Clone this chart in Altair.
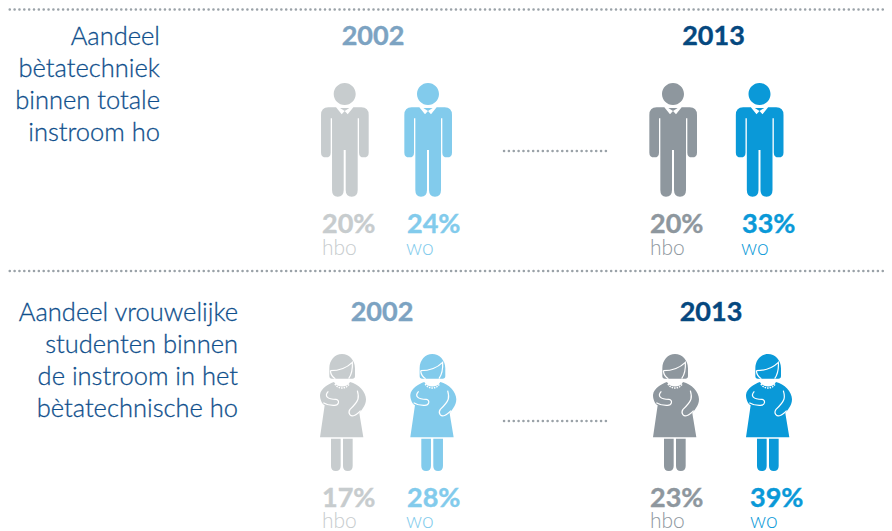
import re
import altair as alt
import pandas as pd

# ---- text content ----
section_labels = [
    ["Aandeel", "bètatechniek", "binnen totale", "instroom ho"],
    ["Aandeel vrouwelijke", "studenten binnen", "de instroom in het", "bètatechnische ho"],
]
years = ["2002", "2013", "2002", "2013"]
values = ["20%", "24%", "20%", "33%", "17%", "28%", "23%", "39%"]
groups = ["hbo", "wo", "hbo", "wo", "hbo", "wo", "hbo", "wo"]

# ---- colours ----
C_LGRAY, C_LBLUE, C_DGRAY, C_BLUE = "#c7ccce", "#82cbec", "#8e979e", "#0a99d8"
C_Y02, C_Y13, C_TXT, C_DOT = "#7ca3c2", "#05487f", "#0f4f8c", "#9aa2a8"
fig_colors = [C_LGRAY, C_LBLUE, C_DGRAY, C_BLUE]
FONT = "Lato"
NUMFONT = "Lato"

# ---- layout (page pixels) ----
W, H = 884, 531
man_x, man_y = [344.7, 428, 673, 759.5], 140
woman_x, woman_y = [342, 432.3, 675, 768], 412.5
val_x = [322, 407, 650, 742, 322, 407, 650, 750]
grp_x = [322, 406, 650, 741, 322, 406, 650, 750]
val_y = [233, 233, 233, 233, 507, 507, 507, 507]
grp_y = [255, 255, 255, 255, 528, 528, 528, 528]
year_x = [373, 713.5, 382, 711]
year_y = [45, 45, 321, 321]
label_right = [160, 238]
label_base = [[45, 77, 109, 141], [321, 353, 385, 417]]
dot_lines = [(0, 892, 9.5), (0, 892, 271), (504, 606, 151), (504, 606, 421)]

# ---- icon glyphs, drawn in a 3x working space and normalised to [-1, 1] ----
def circle(cx, cy, r):
    k = 0.5523 * r
    return (f"M {cx} {cy-r} C {cx+k} {cy-r} {cx+r} {cy-k} {cx+r} {cy} "
            f"C {cx+r} {cy+k} {cx+k} {cy+r} {cx} {cy+r} "
            f"C {cx-k} {cy+r} {cx-r} {cy+k} {cx-r} {cy} "
            f"C {cx-r} {cy-k} {cx-k} {cy-r} {cx} {cy-r} Z ")

def norm(path, cx, cy, half):
    i = [0]
    def f(m):
        v = float(m.group(0))
        o = cx if i[0] % 2 == 0 else cy
        i[0] += 1
        return f"{(v - o) / half:.4f}"
    return re.sub(r"-?\d+\.?\d*", f, path)

MAN = (circle(134, 282, 33) +
       "M 85 322 L 108 322 L 125 343 L 134 333 L 143 343 L 160 322 L 184 322 Q 206 322 206 345 "
       "L 206 458 Q 206 472 191 472 Q 177 472 177 458 L 177 355 L 173 355 L 173 570 "
       "Q 173 590 155 590 Q 137 590 137 570 L 137 450 L 131 450 L 131 570 Q 131 590 113 590 "
       "Q 96 590 96 570 L 96 355 L 92 355 L 92 458 Q 92 472 78 472 Q 63 472 63 458 L 63 345 "
       "Q 63 322 85 322 Z M 120 324 L 148 324 L 134 333 Z")
MAN_PATH = norm(MAN, 134, 420, 170)

WOMAN = ("M 88 265 C 88 240 105 222 126 222 C 147 222 165 240 165 265 L 165 288 Q 165 296 157 296 "
         "L 96 296 Q 88 296 88 288 Z "
         "M 102 306 C 110 324 142 324 150 306 C 175 312 198 335 198 358 C 198 378 182 392 178 400 "
         "L 190 472 L 60 472 L 74 376 C 64 370 60 356 60 345 C 62 325 85 312 102 306 Z "
         "M 93 476 L 122 476 L 122 558 Q 122 573 107.5 573 Q 93 573 93 558 Z "
         "M 129 476 L 158 476 L 158 558 Q 158 573 143.5 573 Q 129 573 129 558 Z")
WOMAN_PATH = norm(WOMAN, 126, 397.5, 175.5)
WOMAN_LINES = norm("M 91 272 C 115 272 140 264 157 247 C 158 262 157 280 146 296 "
                   "M 91 272 C 92 282 98 292 106 296 "
                   "M 85 334 C 72 348 82 358 108 358 C 120 360 118 378 100 376 C 88 376 78 373 70 368 "
                   "M 172 332 C 178 352 178 362 150 388 C 142 400 152 412 164 406 C 172 400 178 398 182 392",
                   126, 397.5, 175.5)
NECK = norm("M 105 312 C 112 328 140 328 147 312", 126, 397.5, 175.5)

# ---- tables ----
men = pd.DataFrame({"x": man_x, "y": man_y, "c": fig_colors})
women = pd.DataFrame({"x": woman_x, "y": woman_y, "c": fig_colors})
vals = pd.DataFrame({"x": val_x, "y": val_y, "t": values,
                     "c": [C_LGRAY, C_LBLUE, C_DGRAY, C_BLUE] * 2})
grps = pd.DataFrame({"x": grp_x, "y": grp_y, "t": groups,
                     "c": [C_LGRAY, C_LBLUE, C_DGRAY, C_BLUE] * 2})
yrs = pd.DataFrame({"x": year_x, "y": year_y, "t": years,
                    "c": [C_Y02, C_Y13, C_Y02, C_Y13]})
lab = pd.DataFrame([{"x": label_right[s], "y": label_base[s][i], "t": section_labels[s][i]}
                    for s in range(2) for i in range(4)])
dots = pd.DataFrame(dot_lines, columns=["x", "x2", "y"])

sx = alt.Scale(domain=[8, W], range=[0, W - 8])
sy = alt.Scale(domain=[8, H], range=[0, H - 8])
X = alt.X("x:Q", scale=sx, axis=None)
Y = alt.Y("y:Q", scale=sy, axis=None)
COL = alt.Color("c:N", scale=None)

rules = alt.Chart(dots).mark_rule(strokeWidth=2.5, strokeCap="round", strokeDash=[0.1, 4.75],
                                  color=C_DOT, clip=True).encode(X, alt.X2("x2:Q"), Y)

def icon(df, path, size, **kw):
    return alt.Chart(df).mark_point(shape=path, size=size, filled=True, opacity=1, **kw).encode(X, Y, COL)

def overlay(df, path, size, **kw):
    return alt.Chart(df).mark_point(shape=path, size=size, filled=False, opacity=1, stroke="white", **kw).encode(X, Y)

men_l = icon(men, MAN_PATH, (2 * 170 / 3) ** 2)
wom_s = (2 * 175.5 / 3) ** 2
wom_l = icon(women, WOMAN_PATH, wom_s)
wom_o = overlay(women, WOMAN_LINES, wom_s, strokeWidth=1.2)
wom_n = overlay(women, NECK, wom_s, strokeWidth=1.5, strokeDash=[1.5, 1])

def text(df, size, font, weight, align="left", color=None, thicken=0):
    kw = {}
    if color:
        kw["color"] = color
    if thicken:
        kw["strokeWidth"] = thicken
    m = alt.Chart(df).mark_text(fontSize=size, font=font, fontWeight=weight, align=align,
                                baseline="alphabetic", **kw)
    enc = dict(x=X, y=Y, text="t:N")
    if not color:
        enc["color"] = COL
    if thicken:
        enc["stroke"] = alt.Stroke("c:N", scale=None) if not color else alt.value(color)
    return m.encode(**enc)

chart = alt.layer(
    rules, men_l, wom_l, wom_o, wom_n,
    text(lab, 25.5, FONT, 300, "right", C_TXT, thicken=0.3),
    text(yrs, 27, NUMFONT, 700, "center", thicken=0.4),
    text(vals, 27, NUMFONT, 700, thicken=0.4),
    text(grps, 21, FONT, 300),
).properties(
    width=W - 8, height=H - 8, padding=0,
    autosize=alt.AutoSizeParams(type="none"),
).configure_view(stroke=None)

chart.save("out.html", embed_options={"renderer": "svg", "actions": False})
